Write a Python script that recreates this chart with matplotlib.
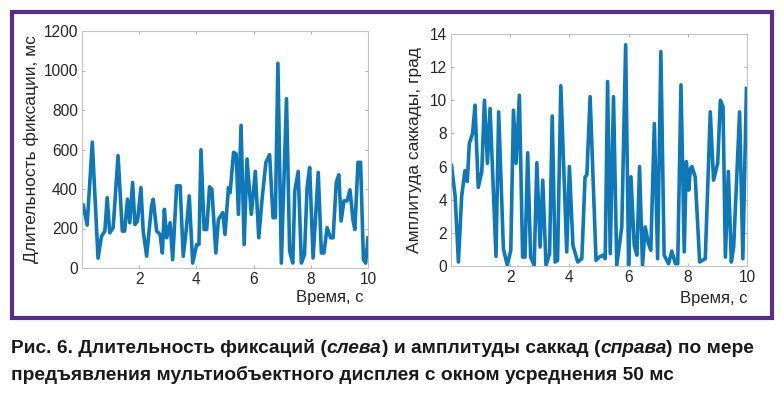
import matplotlib
matplotlib.use("Agg")
import matplotlib.pyplot as plt
from matplotlib.patches import Rectangle

plt.rcParams['font.family'] = ['Liberation Sans', 'DejaVu Sans']

# fixation duration (left)
t_fix = [0.0, 0.04, 0.18, 0.36, 0.56, 0.68, 0.80, 0.88, 0.97, 1.09, 1.26, 1.41, 1.49, 1.59, 1.67, 1.77, 1.85, 1.94, 2.06, 2.14, 2.26, 2.43, 2.49, 2.61, 2.73, 2.81, 2.88, 2.96, 3.08, 3.17, 3.31, 3.43, 3.54, 3.64, 3.75, 3.87, 4.01, 4.09, 4.16, 4.27, 4.36, 4.46, 4.54, 4.68, 4.77, 4.92, 5.00, 5.12, 5.18, 5.30, 5.39, 5.47, 5.56, 5.67, 5.77, 5.92, 6.06, 6.18, 6.29, 6.43, 6.56, 6.68, 6.76, 6.85, 6.97, 7.15, 7.26, 7.37, 7.44, 7.56, 7.67, 7.78, 7.87, 7.96, 8.08, 8.26, 8.37, 8.46, 8.57, 8.69, 8.78, 8.89, 8.98, 9.06, 9.16, 9.27, 9.37, 9.48, 9.54, 9.65, 9.74, 9.84, 9.92, 10.0]
fix = [309, 320, 217, 637, 50, 160, 187, 356, 178, 204, 569, 187, 187, 348, 229, 433, 220, 238, 407, 187, 60, 314, 348, 187, 170, 76, 297, 153, 229, 42, 416, 416, 60, 187, 365, 25, 119, 119, 599, 195, 195, 411, 399, 76, 246, 280, 170, 407, 382, 586, 577, 272, 722, 119, 552, 272, 489, 153, 340, 535, 574, 255, 255, 1036, 25, 857, 85, 25, 390, 489, 25, 68, 407, 509, 51, 484, 76, 76, 204, 153, 153, 433, 472, 238, 340, 340, 396, 238, 195, 535, 535, 42, 25, 153]

# saccade amplitude (right)
t_sac = [0.02, 0.14, 0.25, 0.36, 0.47, 0.55, 0.62, 0.73, 0.81, 0.92, 1.04, 1.13, 1.23, 1.32, 1.52, 1.61, 1.77, 1.90, 2.02, 2.11, 2.20, 2.31, 2.42, 2.50, 2.59, 2.69, 2.81, 2.90, 3.01, 3.10, 3.21, 3.33, 3.42, 3.52, 3.60, 3.71, 3.91, 4.00, 4.12, 4.28, 4.42, 4.53, 4.59, 4.70, 4.90, 5.01, 5.13, 5.21, 5.29, 5.38, 5.49, 5.60, 5.77, 5.90, 6.00, 6.08, 6.19, 6.28, 6.37, 6.47, 6.56, 6.67, 6.75, 6.87, 6.98, 7.09, 7.20, 7.35, 7.46, 7.58, 7.66, 7.77, 7.88, 7.95, 8.03, 8.09, 8.14, 8.25, 8.40, 8.59, 8.76, 8.87, 9.01, 9.10, 9.19, 9.27, 9.37, 9.47, 9.55, 9.75, 9.86, 9.98]
sac = [6.05, 4.2, 0.24, 4.2, 5.75, 5.1, 7.4, 8.0, 9.7, 4.74, 5.7, 10.0, 6.2, 9.5, 0.58, 9.3, 1.05, 0.04, 0.95, 9.4, 6.2, 10.3, 0.54, 0.54, 6.83, 0.54, 0.04, 6.23, 1.15, 5.18, 0.04, 0.75, 9.05, 0.24, 0.34, 10.87, 0.85, 6.0, 1.25, 0.24, 0.44, 5.38, 5.48, 10.22, 0.34, 0.54, 0.65, 0.44, 11.13, 0.75, 10.22, 0.04, 2.36, 13.35, 0.04, 5.38, 1.25, 0.65, 6.0, 0.04, 2.36, 1.35, 0.95, 8.6, 0.44, 12.94, 0.65, 0.14, 0.9, 0.14, 0.14, 10.93, 0.85, 6.3, 4.58, 5.89, 6.0, 5.38, 0.24, 0.44, 9.3, 5.18, 6.2, 10.0, 9.6, 0.54, 5.7, 0.24, 1.15, 9.3, 0.44, 10.72]

line_color = '#0f78b8'
txt_color = '#262626'

fig = plt.figure(figsize=(7.83, 3.93), dpi=100)

# purple frame round the two plots
fig.patches.append(Rectangle((12 / 783, 1 - 318 / 393), 760 / 783, 306 / 393,
                             transform=fig.transFigure, fill=False,
                             edgecolor='#5a2d8c', linewidth=3))

ax1 = fig.add_axes([82 / 783, 1 - 268 / 393, 286 / 783, 237 / 393])
ax2 = fig.add_axes([451 / 783, 1 - 266 / 393, 296 / 783, 232 / 393])

panels = [
    (ax1, t_fix, fix, 1200, 200, 'Длительность фиксации, мс', -0.152, 0.983, -0.143),
    (ax2, t_sac, sac, 14, 2, 'Амплитуда саккады, град', -0.098, 1.0, -0.16),
]
for ax, x, y, ymax, ystep, ylab, ylx, xlx, xly in panels:
    ax.plot(x, y, color=line_color, linewidth=2.6, solid_joinstyle='round')
    ax.set_xlim(0, 10)
    ax.set_ylim(0, ymax)
    ax.set_xticks([2, 4, 6, 8, 10])
    ax.set_yticks(range(0, ymax + 1, ystep))
    ax.tick_params(direction='in', length=2.5, width=0.6, color='#aaaaaa',
                   labelsize=11.2, labelcolor=txt_color, top=True, right=True, pad=3)
    for s in ax.spines.values():
        s.set_color('#c4c4c4')
        s.set_linewidth(0.8)
    ax.set_ylabel(ylab, fontsize=12.5, color=txt_color)
    ax.yaxis.set_label_coords(ylx, 0.5)
    ax.text(xlx, xly, 'Время, с', transform=ax.transAxes, ha='right', va='baseline',
            fontsize=12, color=txt_color)

# caption with italic inserts
line1 = [('Рис. 6. Длительность фиксаций (', 'normal'), ('слева', 'italic'),
         (') и амплитуды саккад (', 'normal'), ('справа', 'italic'), (') по мере', 'normal')]
line2 = [('предъявления мультиобъектного дисплея с окном усреднения 50 мс', 'normal')]

renderer = fig.canvas.get_renderer()
for parts, ybase in [(line1, 353), (line2, 380)]:
    xpos = 11
    for s, style in parts:
        t = fig.text(xpos / 783, 1 - ybase / 393, s, fontsize=13.8, fontweight='bold',
                     style=style, color='#1a1a1a', va='baseline')
        xpos += t.get_window_extent(renderer).width

fig.savefig('out.png', dpi=100)
